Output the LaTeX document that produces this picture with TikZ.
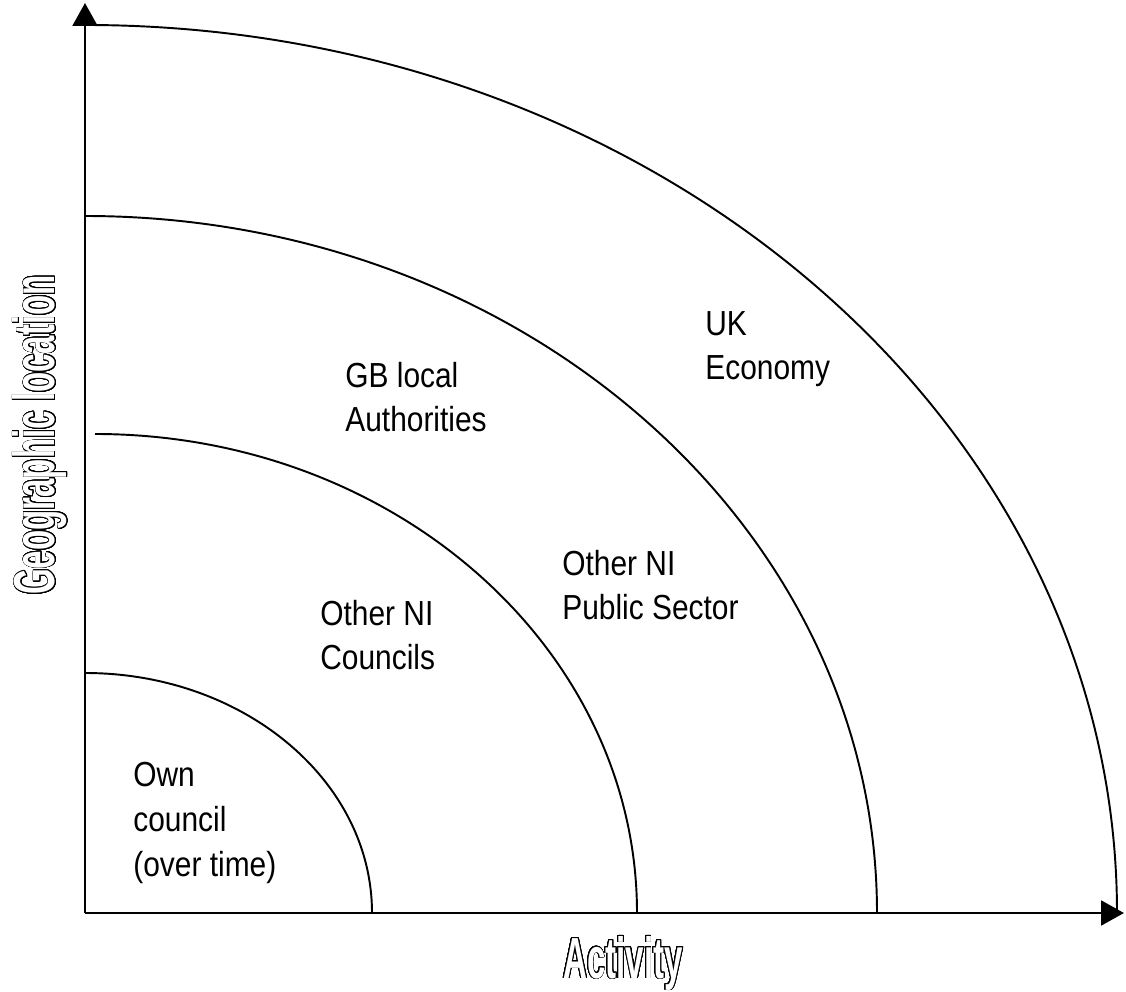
\documentclass[tikz,border=0pt]{standalone}
\usepackage{fontspec}
\setmainfont{Liberation Sans}
\newfontfamily\ringfont[FakeStretch=0.86]{Liberation Sans}
\newfontfamily\axisfont[FakeStretch=0.57]{Liberation Sans}
\usepackage[copies]{contour}
\contourlength{0.45pt}
\contournumber{32}
\usetikzlibrary{arrows.meta}

\begin{document}
\begin{tikzpicture}[x=0.02cm,y=0.02cm,>={Triangle[length=13pt,width=14pt]},
  ring/.style={anchor=base west,align=left,inner sep=0pt,font=\ringfont\fontsize{19.8}{25.5}\selectfont},
  axislabel/.style={anchor=base,inner sep=0pt,font=\axisfont\bfseries\fontsize{33}{36}\selectfont},
  arcline/.style={line width=1.1pt}]
\useasboundingbox (-85,-78) rectangle (1041,913);
\coordinate (O) at (0,0);
\coordinate (xend) at (1039,0);
\coordinate (yend) at (0,910);
\draw[line width=1.7pt,->](O)--(xend);
\draw[line width=1.7pt,->](O)--(yend);
\draw[arcline](0,240)arc[start angle=90,end angle=0,x radius=287,y radius=240];
\draw[arcline](10,479)arc[start angle=90,end angle=0,x radius=542,y radius=479];
\draw[arcline](0,697)arc[start angle=90,end angle=0,x radius=792,y radius=697];
\draw[arcline](0,888)arc[start angle=90,end angle=0,x radius=1032,y radius=888];
% base anchor sits on the last line
\node[ring](own) at (48,37){Own\\council\\(over time)};
\node[ring](nicouncils) at (235,243){Other NI\\Councils};
\node[ring](nipublic) at (477,293){Other NI\\Public Sector};
\node[ring](gbla) at (260,481){GB local\\Authorities};
\node[ring](uk) at (620,533){UK\\Economy};
\node[axislabel](activity) at (538,-65){\color{white}\contour{black}{Activity}};
\node[axislabel,rotate=90](geo) at (-30,478){\color{white}\contour{black}{Geographic location}};
\end{tikzpicture}
\end{document}
